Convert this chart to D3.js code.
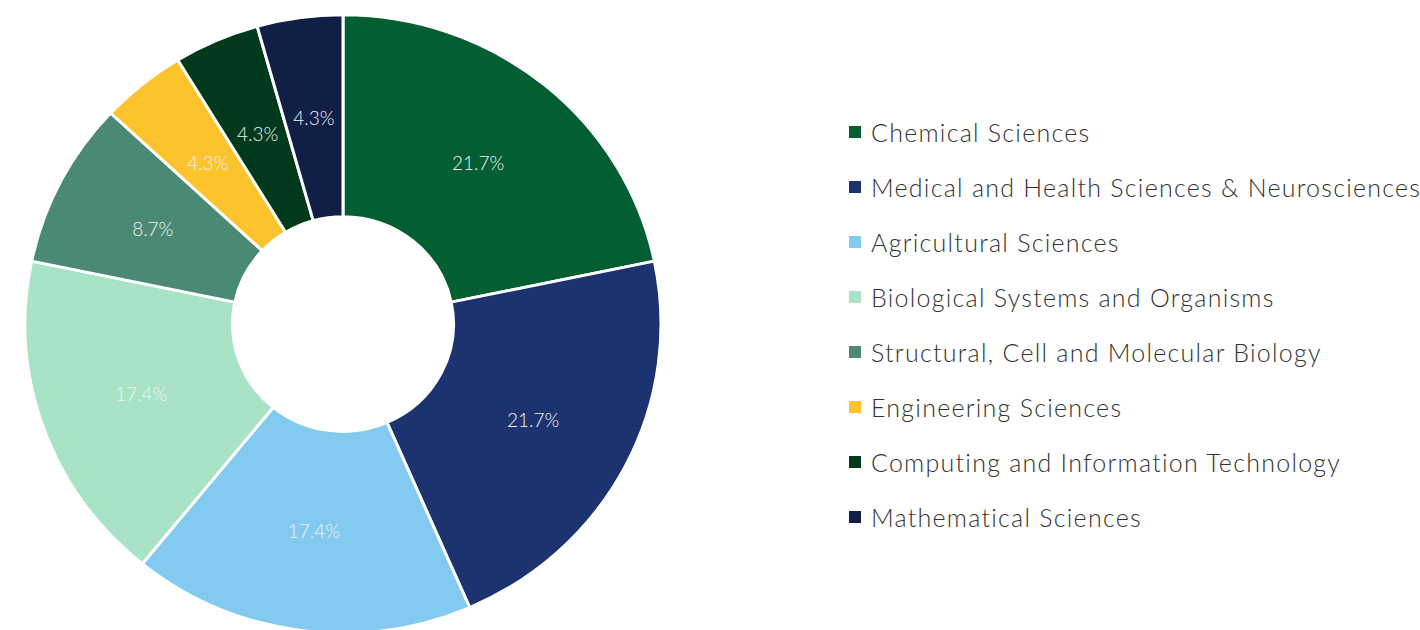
<!DOCTYPE html>
<html>
<head>
<meta charset="utf-8">
<script src="https://cdn.jsdelivr.net/npm/d3@7"></script>
<style>
html,body{margin:0;padding:0;background:#fff;}
svg{display:block;}
</style>
</head>
<body>
<svg id="chart" width="1420" height="630"></svg>
<script>
const categories = ["Chemical Sciences","Medical and Health Sciences & Neurosciences","Agricultural Sciences","Biological Systems and Organisms","Structural, Cell and Molecular Biology","Engineering Sciences","Computing and Information Technology","Mathematical Sciences"];
const counts = [5,5,4,4,2,1,1,1];
const colors = ["#035E32","#1C3370","#82CAEF","#A8E3C6","#4A8A74","#FBC42C","#00391C","#111E45"];

const svg = d3.select("#chart");
const cx = 343, cy = 324, rOuter = 318, rInner = 110.5, sy = 0.972;
const total = d3.sum(counts);
const data = categories.map((c,i)=>({name:c, value:counts[i], color:colors[i]}));
const pie = d3.pie().value(d=>d.value).sort(null);
const arc = d3.arc().innerRadius(rInner).outerRadius(rOuter);
const labelArc = d3.arc().innerRadius(rInner).outerRadius(rOuter);
const arcs = pie(data);

const g = svg.append("g").attr("transform",`translate(${cx},${cy}) scale(1,${sy})`);
g.selectAll("path").data(arcs).enter().append("path")
  .attr("d",arc).attr("fill",d=>d.data.color)
  .attr("stroke","#fff").attr("stroke-width",3).attr("stroke-linejoin","round");

const lg = svg.append("g").attr("transform",`translate(${cx},${cy})`);
lg.selectAll("text").data(arcs).enter().append("text")
  .attr("x",d=>labelArc.centroid(d)[0])
  .attr("y",d=>labelArc.centroid(d)[1]*sy)
  .attr("text-anchor","middle").attr("dominant-baseline","central")
  .attr("font-family","Lato, sans-serif").attr("font-weight",300).attr("font-size",19)
  .attr("fill","#f2f2f2")
  .text(d=>(d.data.value/total*100).toFixed(1)+"%");

const leg = svg.append("g");
const rowY = d3.scaleLinear().domain([0,1]).range([132,187]);
const items = leg.selectAll("g").data(data).enter().append("g")
  .attr("transform",(d,i)=>`translate(849,${rowY(i)})`);
items.append("rect").attr("x",0).attr("y",-6).attr("width",12).attr("height",12).attr("fill",d=>d.color);
items.append("text").attr("x",22).attr("y",0).attr("dominant-baseline","central")
  .attr("font-family","Lato, sans-serif").attr("font-weight",300).attr("font-size",25)
  .attr("letter-spacing",1.25).attr("fill","#333")
  .text(d=>d.name);
</script>
</body>
</html>
